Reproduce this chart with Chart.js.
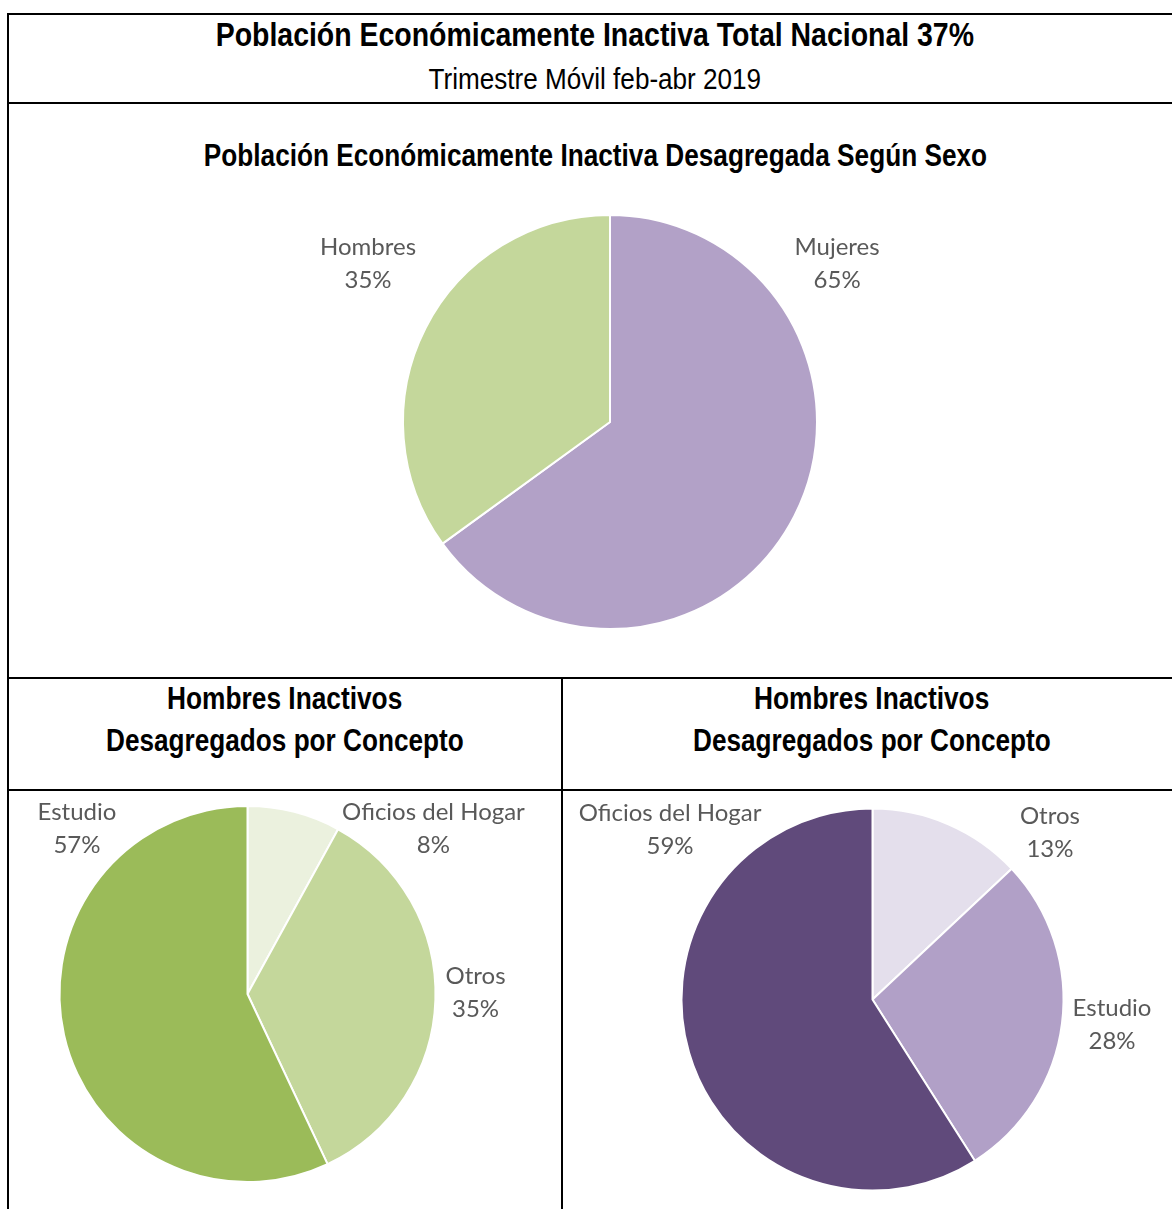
<!DOCTYPE html>
<html>
<head>
<meta charset="utf-8">
<script src="https://cdn.jsdelivr.net/npm/chart.js@4.4.1/dist/chart.umd.min.js"></script>
<style>
  html, body { margin:0; padding:0; background:#fff; width:1172px; height:1209px; overflow:hidden; }
  #page { position:relative; width:1172px; height:1209px; }
  .hl { position:absolute; height:2px; background:#000; }
  .vl { position:absolute; width:2px; background:#000; }
  .t { position:absolute; text-align:center; font-family:"Liberation Sans Narrow","Arial Narrow","Liberation Sans",sans-serif; color:#000; white-space:nowrap; }
  .t span { display:inline-block; transform-origin:50% 50%; }
  .b { font-weight:bold; }
  canvas { position:absolute; }
</style>
</head>
<body>
<div id="page">
  <div class="hl" style="left:7px; top:13px; width:1170px;"></div>
  <div class="hl" style="left:7px; top:102px; width:1170px;"></div>
  <div class="hl" style="left:7px; top:677px; width:1170px;"></div>
  <div class="hl" style="left:7px; top:789px; width:1170px;"></div>
  <div class="vl" style="left:7px; top:13px; height:1196px;"></div>
  <div class="vl" style="left:561px; top:677px; height:532px;"></div>

  <div class="t b" style="left:8px; width:1174px; top:15px; font-size:33px; line-height:40px;"><span id="title" style="transform:scaleX(0.862)"></span></div>
  <div class="t" style="left:8px; width:1174px; top:61px; font-size:29px; line-height:36px;"><span id="subtitle" style="transform:scaleX(0.90)"></span></div>
  <div class="t b" style="left:8px; width:1174px; top:137px; font-size:31px; line-height:38px;"><span id="t1" style="transform:scaleX(0.845)"></span></div>
  <div class="t b" style="left:8px; width:554px; top:678px; font-size:31px; line-height:42px;"><span id="t2a" style="transform:scaleX(0.848)"></span><br><span id="t2b" style="transform:scaleX(0.844)"></span></div>
  <div class="t b" style="left:562px; width:620px; top:678px; font-size:31px; line-height:42px;"><span id="t3a" style="transform:scaleX(0.848)"></span><br><span id="t3b" style="transform:scaleX(0.844)"></span></div>

  <canvas id="c1" style="left:260px; top:182px;" width="700" height="480"></canvas>
  <canvas id="c2" style="left:10px; top:792px;" width="550" height="415"></canvas>
  <canvas id="c3" style="left:564px; top:792px;" width="606" height="415"></canvas>
</div>
<script>
// ---- Text ----
const mainTitle = "Población Económicamente Inactiva Total Nacional 37%";
const subTitle = "Trimestre Móvil feb-abr 2019";
const sexTitle = "Población Económicamente Inactiva Desagregada Según Sexo";
const panelTitleLines = ["Hombres Inactivos", "Desagregados por Concepto"];

// ---- Data ----
const sexLabels = ["Mujeres", "Hombres"];
const sexValues = [65, 35];

const menLabels = ["Oficios del Hogar", "Otros", "Estudio"];
const menValues = [8, 35, 57];

const womenLabels = ["Otros", "Estudio", "Oficios del Hogar"];
const womenValues = [13, 28, 59];

document.getElementById('title').textContent = mainTitle;
document.getElementById('subtitle').textContent = subTitle;
document.getElementById('t1').textContent = sexTitle;
document.getElementById('t2a').textContent = panelTitleLines[0];
document.getElementById('t2b').textContent = panelTitleLines[1];
document.getElementById('t3a').textContent = panelTitleLines[0];
document.getElementById('t3b').textContent = panelTitleLines[1];

// label placement plugin: positions given relative to pie center in units of radius
const outsideLabels = {
  id: 'outsideLabels',
  afterDatasetsDraw(chart, args, opts) {
    const ctx = chart.ctx;
    const meta = chart.getDatasetMeta(0);
    const ds = chart.data.datasets[0];
    ctx.save();
    ctx.font = opts.font;
    ctx.fillStyle = opts.color;
    ctx.textAlign = 'center';
    ctx.textBaseline = 'middle';
    meta.data.forEach((arc, i) => {
      const r = arc.outerRadius;
      const a = opts.anchors[i];
      const x = arc.x + a[0] * r;
      const y = arc.y + a[1] * r + 2;
      ctx.fillText(chart.data.labels[i], x, y - opts.lineGap / 2);
      ctx.fillText(ds.data[i] + '%', x, y + opts.lineGap / 2);
    });
    ctx.restore();
  }
};

function makePie(id, labels, values, colors, radius, padding, anchors) {
  return new Chart(document.getElementById(id), {
    type: 'pie',
    data: { labels: labels, datasets: [{ data: values, backgroundColor: colors, borderColor: '#ffffff', borderWidth: 2 }] },
    options: {
      responsive: false,
      animation: false,
      radius: radius,
      layout: { padding: padding },
      plugins: {
        legend: { display: false },
        tooltip: { enabled: false },
        outsideLabels: { anchors: anchors, font: '24px Lato, "Open Sans", sans-serif', color: '#595959', lineGap: 33 }
      }
    },
    plugins: [outsideLabels]
  });
}

makePie('c1', sexLabels, sexValues, ['#B2A1C7', '#C4D79B'], 207, 0,
  [[1.097, -0.773], [-1.169, -0.773]]);
makePie('c2', menLabels, menValues, ['#EBF1DE', '#C4D79B', '#9BBB59'], 188, {left: 0, right: 75, top: 0, bottom: 11},
  [[0.989, -0.888], [1.213, -0.016], [-0.907, -0.888]]);
makePie('c3', womenLabels, womenValues, ['#E4DFEC', '#B1A0C7', '#604A7B'], 191, {left: 11, right: 0, top: 0, bottom: 0},
  [[0.929, -0.885], [1.254, 0.12], [-1.06, -0.90]]);
</script>
</body>
</html>
